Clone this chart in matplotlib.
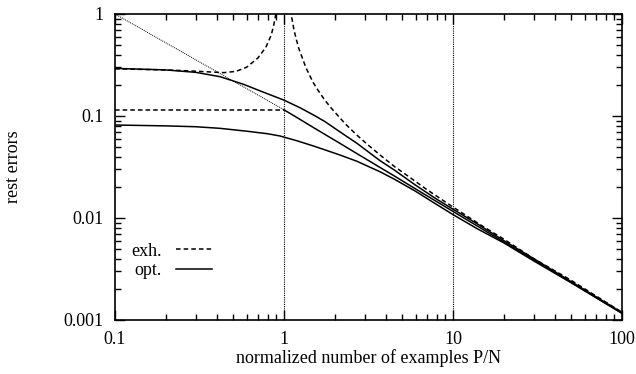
import numpy as np
import matplotlib.pyplot as plt
from matplotlib.ticker import LogLocator, NullFormatter, FixedLocator, FixedFormatter

plt.rcParams['font.family'] = ['Liberation Serif', 'DejaVu Serif']

# exhaustive (dashed) curves
exh_left_x = [0.1, 0.2, 0.3, 0.44, 0.52, 0.6, 0.7, 0.78, 0.84, 0.87, 0.89, 0.9]
exh_left_y = [0.29, 0.283, 0.275, 0.266, 0.274, 0.30, 0.37, 0.47, 0.62, 0.78, 0.95, 1.05]
exh_right_x = [1.09, 1.15, 1.22, 1.35, 1.49, 1.6, 1.75, 1.9, 2.04, 2.3, 2.7, 3.1, 3.7,
               4.5, 5.5, 7, 10, 15, 20, 30, 50, 100]
exh_right_y = [1.1, 0.676, 0.465, 0.296, 0.212, 0.176, 0.142, 0.120, 0.105, 0.084, 0.065, 0.053, 0.0415,
               0.032, 0.0253, 0.019, 0.0128, 0.0083, 0.0062, 0.0040, 0.00245, 0.00119]
exh_flat_x = [0.1, 1.0]
exh_flat_y = [0.1145, 0.1145]

# optimal (solid) curves
opt_upper_x = [0.1, 0.2, 0.3, 0.418, 0.574, 0.75, 1.0, 1.25, 1.5, 1.75, 2.14, 2.7, 3.7, 4.5, 6, 8, 10,
               14, 20, 30, 50, 100]
opt_upper_y = [0.293, 0.283, 0.268, 0.243, 0.205, 0.172, 0.143, 0.120, 0.102, 0.088, 0.070, 0.054,
               0.0365, 0.0295, 0.021, 0.0153, 0.0122, 0.0087, 0.0060, 0.0040, 0.00238, 0.00118]
opt_mid_x = [1.0, 1.2, 1.5, 2.14, 2.7, 3.7, 4.5, 6, 10, 14, 20, 30, 50, 100]
opt_mid_y = [0.115, 0.096, 0.0767, 0.054, 0.0428, 0.0313, 0.0258, 0.0193, 0.0116, 0.0083, 0.0058,
             0.0039, 0.00234, 0.00117]
opt_low_x = [0.1, 0.2, 0.3, 0.418, 0.6, 0.8, 0.946, 1.2, 1.5, 1.75, 2.14, 2.7, 3.7, 4.5, 6, 7.5, 10,
             14, 20, 30, 50, 100]
opt_low_y = [0.0816, 0.080, 0.0785, 0.0757, 0.071, 0.067, 0.0637, 0.057, 0.0507, 0.0465, 0.0415,
             0.036, 0.0284, 0.0240, 0.0183, 0.0145, 0.0108, 0.0078, 0.0057, 0.0038, 0.00232, 0.00116]

# dotted reference line
ref_x = [0.1, 1.0]
ref_y = [1.0, 0.115]

vlines_x = [1, 10]

fig = plt.figure(figsize=(6.36, 3.74), dpi=100)
ax = fig.add_axes([115/636, 1 - 320/374, (622-115)/636, (320-14)/374])

lw = 1.1
ax.plot(exh_left_x, exh_left_y, color='black', lw=lw, ls=(0, (3, 2)))
ax.plot(exh_right_x, exh_right_y, color='black', lw=lw, ls=(0, (3, 2)))
ax.plot(exh_flat_x, exh_flat_y, color='black', lw=lw, ls=(0, (3, 2)), label='exh.')
ax.plot(opt_upper_x, opt_upper_y, color='black', lw=lw, label='opt.')
ax.plot(opt_mid_x, opt_mid_y, color='black', lw=lw)
ax.plot(opt_low_x, opt_low_y, color='black', lw=lw)
ax.plot(ref_x, ref_y, color='black', lw=0.7, ls=(0, (1, 1)))
for xv in vlines_x:
    ax.axvline(xv, color='black', lw=0.8, ls=(0, (1, 1)))

ax.set_xscale('log')
ax.set_yscale('log')
ax.set_xlim(0.1, 100)
ax.set_ylim(0.001, 1)

ax.xaxis.set_major_locator(FixedLocator([0.1, 1, 10, 100]))
ax.xaxis.set_major_formatter(FixedFormatter(['0.1', '1', '10', '100']))
ax.yaxis.set_major_locator(FixedLocator([0.001, 0.01, 0.1, 1]))
ax.yaxis.set_major_formatter(FixedFormatter(['0.001', '0.01', '0.1', '1']))
for a in (ax.xaxis, ax.yaxis):
    a.set_minor_locator(LogLocator(base=10, subs=np.arange(2, 10)))
    a.set_minor_formatter(NullFormatter())

ax.tick_params(which='both', direction='in', top=True, right=True, labelsize=13, width=1)
ax.tick_params(which='major', length=7, pad=8)
ax.tick_params(which='minor', length=4)
for s in ax.spines.values():
    s.set_linewidth(1.2)

ax.set_xlabel('normalized number of examples P/N', fontsize=13, labelpad=1)
ax.set_ylabel('rest errors', fontsize=13, labelpad=30)

ax.legend(loc='lower left', bbox_to_anchor=(0.0, 0.08), frameon=False, markerfirst=False,
          fontsize=13, handlelength=2.0, handletextpad=0.8, labelspacing=0.15)

fig.savefig('out.png', dpi=100)
